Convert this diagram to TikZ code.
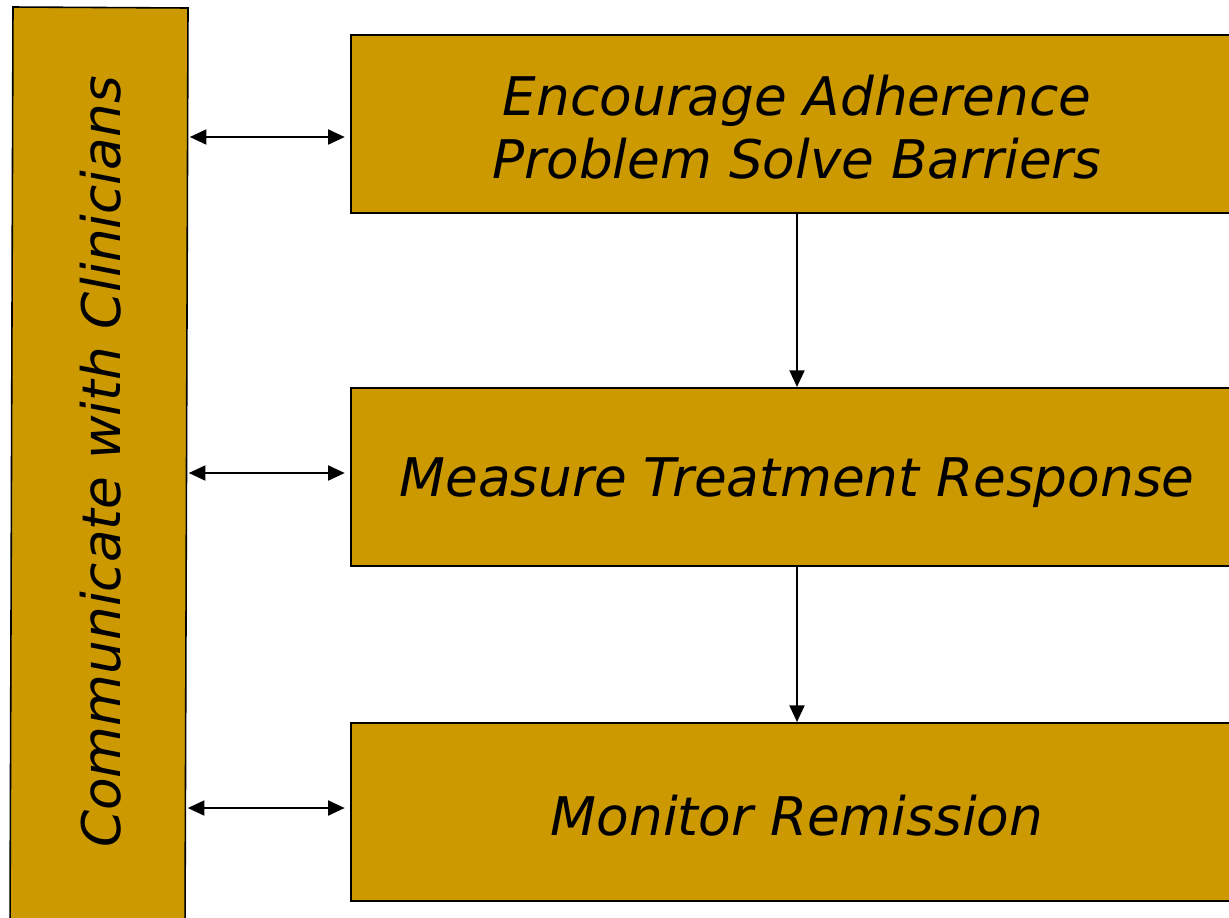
\documentclass[tikz,border=0pt]{standalone}
\usepackage{fontspec}
\setmainfont{DejaVu Sans}
\usetikzlibrary{arrows.meta}
\definecolor{gold}{HTML}{CC9900}
\tikzset{
  box/.style={fill=gold, draw=black, line width=0.9pt},
  lbl/.style={font=\itshape\fontsize{30.3}{35.5}\selectfont, align=center, inner sep=0pt},
  conn/.style={draw=black, line width=1.3pt, -{Triangle[length=9.5pt,width=8.5pt]}},
  dconn/.style={draw=black, line width=1.3pt, {Triangle[length=9.5pt,width=8.5pt]}-{Triangle[length=9.5pt,width=8.5pt]}}
}
\begin{document}
\begin{tikzpicture}[x=0.02cm,y=-0.02cm]
\useasboundingbox (0,0) rectangle (1229,917);
\clip (0,0) rectangle (1229,917);
% left tall box (slightly skewed)
\draw[box] (13,7) -- (188,8) -- (185,930) -- (10,930) -- cycle;
\node[lbl, rotate=90] (comm) at (101,462) {Communicate with Clinicians};
\coordinate (cA) at (188,137);
\coordinate (cB) at (187,473);
\coordinate (cC) at (186,808);
% right boxes
\node[box, minimum width=890*0.02cm, minimum height=178*0.02cm, anchor=north west, inner sep=0pt] (b1) at (350,34) {};
\node[box, minimum width=890*0.02cm, minimum height=178*0.02cm, anchor=north west, inner sep=0pt] (b2) at (350,387) {};
\node[box, minimum width=890*0.02cm, minimum height=178*0.02cm, anchor=north west, inner sep=0pt] (b3) at (350,722) {};
\node[lbl] (t1) at (797,127) {Encourage Adherence\\Problem Solve Barriers};
\node[lbl] (t2) at (797,483) {Measure Treatment Response};
\node[lbl] (t3) at (797,816) {Monitor Remission};
% vertical arrows
\draw[conn] (b1.south -| t1) -- (b2.north -| t1);
\draw[conn] (b2.south -| t1) -- (b3.north -| t1);
% horizontal double arrows
\draw[dconn] ([xshift=1pt]cA) -- ([xshift=-3pt]cA -| b1.west);
\draw[dconn] ([xshift=1pt]cB) -- ([xshift=-3pt]cB -| b2.west);
\draw[dconn] ([xshift=1pt]cC) -- ([xshift=-3pt]cC -| b3.west);
\end{tikzpicture}
\end{document}
